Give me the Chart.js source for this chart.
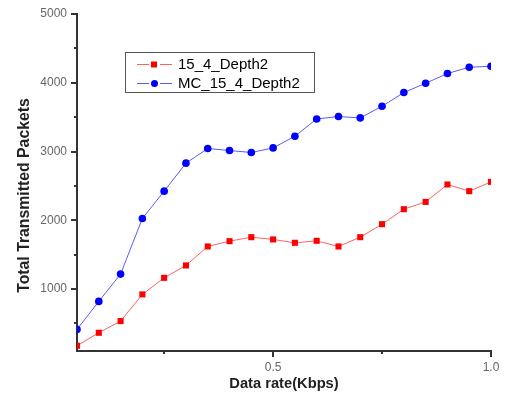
<!DOCTYPE html>
<html>
<head>
<meta charset="utf-8">
<script src="https://cdn.jsdelivr.net/npm/chart.js@4/dist/chart.umd.min.js"></script>
<style>
  html, body { margin: 0; padding: 0; background: #fff; }
  #wrap { width: 506px; height: 402px; }
</style>
</head>
<body>
<div id="wrap"><canvas id="chart" width="506" height="402"></canvas></div>
<script>
// data rate (Kbps)
const rates = [0.05, 0.1, 0.15, 0.2, 0.25, 0.3, 0.35, 0.4, 0.45, 0.5,
               0.55, 0.6, 0.65, 0.7, 0.75, 0.8, 0.85, 0.9, 0.95, 1.0];
const depth2 = [176, 365, 535, 923, 1164, 1344, 1620, 1697, 1755, 1722,
                1673, 1702, 1620, 1755, 1944, 2162, 2268, 2521, 2424, 2559];
const mcDepth2 = [414, 821, 1218, 2027, 2424, 2831, 3044, 3015, 2986, 3053,
                  3223, 3474, 3509, 3489, 3659, 3858, 3993, 4134, 4226, 4240];
const seriesNames = ['15_4_Depth2', 'MC_15_4_Depth2'];
const xTicks = [0.25, 0.5, 0.75, 1.0];
const xLabels = { 0.5: '0.5', 1: '1.0' };
const yTicks = [500, 1000, 1500, 2000, 2500, 3000, 3500, 4000, 4500, 5000];
const xTitle = 'Data rate(Kbps)';
const yTitle = 'Total Transmitted Packets';

const axisColor = '#333333';
const fontFamily = '"Liberation Sans", Arial, sans-serif';

// outward tick marks, long for labelled ones and short for the others
const tickMarks = {
    id: 'tickMarks',
    afterDraw(chart) {
        const ctx = chart.ctx;
        const xs = chart.scales.x, ys = chart.scales.y;
        const area = chart.chartArea;
        ctx.save();
        ctx.strokeStyle = axisColor;
        ctx.lineWidth = 2;
        xTicks.forEach(v => {
            const px = Math.round(xs.getPixelForValue(v));
            const len = xLabels[v] ? 6 : 3;
            ctx.beginPath();
            ctx.moveTo(px, area.bottom);
            ctx.lineTo(px, area.bottom + len);
            ctx.stroke();
        });
        yTicks.forEach(v => {
            const py = Math.round(ys.getPixelForValue(v));
            const len = v % 1000 === 0 ? 6 : 3;
            ctx.beginPath();
            ctx.moveTo(area.left, py);
            ctx.lineTo(area.left - len, py);
            ctx.stroke();
        });
        ctx.restore();
    }
};

// axis titles, placed like the original plot
const axisTitles = {
    id: 'axisTitles',
    afterDraw(chart) {
        const ctx = chart.ctx;
        const area = chart.chartArea;
        ctx.save();
        ctx.fillStyle = '#222';
        ctx.textAlign = 'center';
        ctx.textBaseline = 'middle';
        ctx.font = 'bold 14.7px ' + fontFamily;
        ctx.fillText(xTitle, (area.left + area.right) / 2, area.bottom + 33);
        ctx.translate(area.left - 52, (area.top + area.bottom) / 2 + 13);
        ctx.rotate(-Math.PI / 2);
        ctx.font = 'bold 15.8px ' + fontFamily;
        ctx.fillText(yTitle, 0, 0);
        ctx.restore();
    }
};

// boxed legend with line-marker-line samples
const boxLegend = {
    id: 'boxLegend',
    afterDraw(chart) {
        const ctx = chart.ctx;
        const area = chart.chartArea;
        const x0 = area.left + 48, y0 = area.top + 38;
        const w = 189, h = 40;
        ctx.save();
        ctx.fillStyle = '#fff';
        ctx.fillRect(x0, y0, w, h);
        ctx.strokeStyle = '#555';
        ctx.lineWidth = 1;
        ctx.strokeRect(x0 + 0.5, y0 + 0.5, w, h);
        ctx.font = '15px ' + fontFamily;
        ctx.textBaseline = 'middle';
        chart.data.datasets.forEach((ds, i) => {
            const cy = y0 + 12 + i * 19;
            const sx = x0 + 12;
            ctx.strokeStyle = ds.borderColor;
            ctx.lineWidth = 1;
            ctx.beginPath();
            ctx.moveTo(sx, cy + 0.5); ctx.lineTo(sx + 12, cy + 0.5);
            ctx.moveTo(sx + 23, cy + 0.5); ctx.lineTo(sx + 35, cy + 0.5);
            ctx.stroke();
            ctx.fillStyle = ds.pointBackgroundColor;
            if (ds.pointStyle === 'rect') {
                ctx.fillRect(sx + 14, cy - 2.5, 6, 6);
            } else {
                ctx.beginPath();
                ctx.arc(sx + 17.5, cy + 0.5, 3.5, 0, Math.PI * 2);
                ctx.fill();
            }
            ctx.fillStyle = '#000';
            ctx.fillText(ds.label, sx + 41, cy + 1);
        });
        ctx.restore();
    }
};

new Chart(document.getElementById('chart'), {
    type: 'line',
    data: {
        datasets: [
            {
                label: seriesNames[0],
                data: rates.map((x, i) => ({ x, y: depth2[i] })),
                borderColor: '#ff6060',
                borderWidth: 1,
                pointStyle: 'rect',
                pointRadius: 4.3,
                pointBackgroundColor: '#ff0000',
                pointBorderColor: '#ff0000',
                pointBorderWidth: 0,
                tension: 0
            },
            {
                label: seriesNames[1],
                data: rates.map((x, i) => ({ x, y: mcDepth2[i] })),
                borderColor: '#5a5aff',
                borderWidth: 1,
                pointStyle: 'circle',
                pointRadius: 3.8,
                pointBackgroundColor: '#0000ff',
                pointBorderColor: '#0000ff',
                pointBorderWidth: 0,
                tension: 0
            }
        ]
    },
    options: {
        responsive: false,
        animation: false,
        events: [],
        layout: { padding: { top: 14, right: 15, left: 0, bottom: 0 } },
        plugins: {
            legend: { display: false },
            tooltip: { enabled: false }
        },
        scales: {
            x: {
                type: 'linear',
                min: 0.05,
                max: 1.0,
                afterBuildTicks: scale => { scale.ticks = xTicks.map(v => ({ value: v })); },
                afterFit: scale => {
                    scale.height = 51;
                    scale.paddingLeft = 0;
                    scale.paddingRight = 0;
                },
                grid: { display: false, drawTicks: false },
                border: { display: true, color: axisColor, width: 2 },
                ticks: {
                    autoSkip: false,
                    maxRotation: 0,
                    padding: 9,
                    color: '#666',
                    font: { family: fontFamily, size: 12 },
                    callback: v => xLabels[v] || ''
                }
            },
            y: {
                min: 100,
                max: 5000,
                afterBuildTicks: scale => { scale.ticks = yTicks.map(v => ({ value: v })); },
                afterFit: scale => {
                    scale.width = 77;
                    scale.paddingTop = 0;
                    scale.paddingBottom = 0;
                },
                grid: { display: false, drawTicks: false },
                border: { display: true, color: axisColor, width: 2 },
                ticks: {
                    autoSkip: false,
                    padding: 10,
                    color: '#666',
                    font: { family: fontFamily, size: 12 },
                    callback: v => (v % 1000 === 0 ? String(v) : '')
                }
            }
        }
    },
    plugins: [tickMarks, axisTitles, boxLegend]
});
</script>
</body>
</html>
